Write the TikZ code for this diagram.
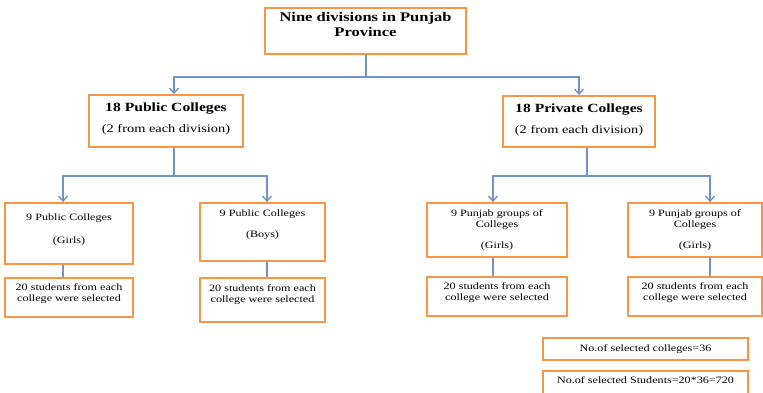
\documentclass[tikz,border=0pt]{standalone}
\usepackage{fontspec}
\setmainfont{Liberation Serif}[FakeStretch=1.25]
\usepackage{tikz}
\usetikzlibrary{arrows.meta,positioning}
\definecolor{boxorange}{HTML}{F79646}
\definecolor{linkblue}{HTML}{7094C8}

\begin{document}
\begin{tikzpicture}[x=1pt, y=-1pt, >={Straight Barb[length=5pt,width=9pt]},
  box/.style={draw=boxorange, line width=1.8pt, fill=white, align=center, inner sep=2pt},
  headbox/.style={box, font=\bfseries\fontsize{12.5}{15}\selectfont},
  smallbox/.style={box, font=\fontsize{9.7}{11}\selectfont},
  link/.style={draw=linkblue, line width=1.4pt}]
  \useasboundingbox (0,0) rectangle (763,392);

  \node[headbox, font=\bfseries\fontsize{13.2}{15}\selectfont, minimum width=201pt, minimum height=46pt, text depth=14pt] (top) at (365.5,31) {Nine divisions in Punjab\\Province};

  \node[headbox, minimum width=154pt, minimum height=52pt, text depth=6pt] (pub) at (166,121) {18 Public Colleges\\[6pt]{\mdseries\fontsize{11.5}{13}\selectfont (2 from each division)}};
  \node[headbox, minimum width=152pt, minimum height=51pt, text depth=6pt] (priv) at (579,121.5) {18 Private Colleges\\[6pt]{\mdseries\fontsize{11.5}{13}\selectfont (2 from each division)}};

  \node[smallbox, minimum width=128pt, minimum height=61pt, text depth=10pt] (girls) at (69,233.5) {9 Public Colleges\\[12pt](Girls)};
  \node[smallbox, minimum width=125pt, minimum height=58pt, text depth=17pt] (boys) at (262.5,232) {9 Public Colleges\\[10pt](Boys)};
  \node[smallbox, minimum width=140pt, minimum height=54pt] (punja) at (497,230) {9 Punjab groups of\\Colleges\\[10pt](Girls)};
  \node[smallbox, minimum width=134pt, minimum height=54pt] (punjb) at (695,230) {9 Punjab groups of\\Colleges\\[10pt](Girls)};

  \node[smallbox, minimum width=128pt, minimum height=39pt, text depth=9pt] (stugirls) at (69,297.5) {20 students from each\\college were selected};
  \node[smallbox, minimum width=125pt, minimum height=44pt, text depth=13pt] (stuboys) at (262.5,300) {20 students from each\\college were selected};
  \node[smallbox, minimum width=140pt, minimum height=39pt, text depth=9pt] (stupunja) at (497,296.5) {20 students from each\\college were selected};
  \node[smallbox, minimum width=134pt, minimum height=39pt, text depth=9pt] (stupunjb) at (695,296.5) {20 students from each\\college were selected};

  \node[smallbox, minimum width=205pt, minimum height=22pt] (nocol) at (645.5,349) {No.of selected colleges=36};
  \node[smallbox, minimum width=205pt, minimum height=26pt, text depth=8pt] (nostu) at (645.5,384) {No.of selected Students=20*36=720};

  % first split
  \coordinate (jtop) at (366,77);
  \draw[link] (top.south -| jtop) -- (jtop);
  \draw[link,->] (jtop) -| ([xshift=8pt]pub.north);
  \draw[link,->] (jtop) -| ([xshift=0pt]priv.north);

  % public side
  \coordinate (jpub) at (174,176);
  \draw[link] (pub.south -| jpub) -- (jpub);
  \draw[link,->] (jpub) -| ([xshift=-6pt]girls.north);
  \draw[link,->] (jpub) -| ([xshift=4.5pt]boys.north);
  \draw[link] ([xshift=-6pt]girls.south) -- ([xshift=-6pt]stugirls.north);
  \draw[link] ([xshift=4.5pt]boys.south) -- ([xshift=4.5pt]stuboys.north);

  % private side
  \coordinate (jpriv) at (587,176);
  \draw[link] (priv.south -| jpriv) -- (jpriv);
  \draw[link,->] (jpriv) -| ([xshift=-4pt]punja.north);
  \draw[link,->] (jpriv) -| ([xshift=15pt]punjb.north);
  \draw[link] ([xshift=-4pt]punja.south) -- ([xshift=-4pt]stupunja.north);
  \draw[link] ([xshift=15pt]punjb.south) -- ([xshift=15pt]stupunjb.north);
\end{tikzpicture}
\end{document}
